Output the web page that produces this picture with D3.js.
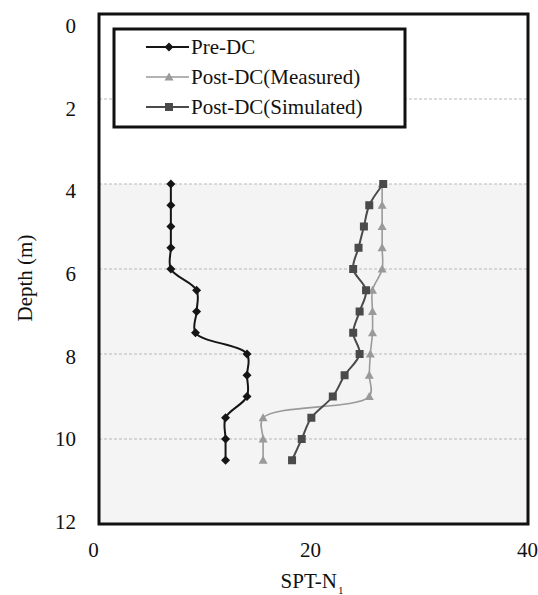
<!DOCTYPE html>
<html>
<head>
<meta charset="utf-8">
<script src="https://cdn.jsdelivr.net/npm/d3@7"></script>
<style>
  html, body { margin: 0; padding: 0; background: #fff; }
  svg { display: block; }
</style>
</head>
<body>
<svg id="chart" width="538" height="595"></svg>
<script>
// ---- data ----
const depths = [4, 4.5, 5, 5.5, 6, 6.5, 7, 7.5, 8, 8.5, 9, 9.5, 10, 10.5];
const preDC = [6.7, 6.7, 6.7, 6.7, 6.7, 9.1, 9.1, 9.0, 13.8, 13.8, 13.8, 11.8, 11.8, 11.8];
const postMeasured = [26.4, 26.4, 26.4, 26.4, 26.4, 25.5, 25.5, 25.5, 25.3, 25.2, 25.2, 15.3, 15.3, 15.3];
const postSimulated = [26.5, 25.2, 24.7, 24.2, 23.7, 24.9, 24.3, 23.7, 24.3, 22.9, 21.8, 19.8, 18.9, 18.0];
const xTicks = [0, 20, 40];
const yTicks = [0, 2, 4, 6, 8, 10, 12];
const gridDepths = [2, 4, 6, 8, 10];
const seriesNames = ["Pre-DC", "Post-DC(Measured)", "Post-DC(Simulated)"];

const FONT = '"Liberation Serif", "Times New Roman", Times, serif';

// ---- layout ----
const L = 99, R = 528, T = 14, B = 524;
const svg = d3.select("#chart");
const x = d3.scaleLinear().domain([0, 40]).range([L, R]);
const y = d3.scaleLinear().domain([0, 12]).range([T, B]);
// tick label placement (labels in the source are slightly offset from ticks)
const xLab = d3.scaleLinear().domain([0, 40]).range([93, 527]);
const yLab = d3.scaleLinear().domain([0, 12]).range([25, 521]);

// background: white above 4 m, light gray below
svg.append("rect").attr("x", L).attr("y", T).attr("width", R - L).attr("height", B - T).attr("fill", "#fff");
svg.append("rect").attr("x", L).attr("y", y(4)).attr("width", R - L).attr("height", B - y(4)).attr("fill", "#f4f4f4");

// gridlines
svg.append("g").selectAll("line").data(gridDepths).join("line")
  .attr("x1", L).attr("x2", R)
  .attr("y1", d => y(d)).attr("y2", d => y(d))
  .attr("stroke", "#b8b8b8").attr("stroke-width", 1).attr("stroke-dasharray", "3,2");

// axes (labels only)
const gx = svg.append("g").attr("transform", `translate(0,${557})`)
  .call(d3.axisBottom(xLab).tickValues(xTicks).tickSize(0).tickPadding(0).tickFormat(d3.format("d")));
gx.attr("font-family", FONT).attr("font-size", 21);
gx.select(".domain").remove();
gx.selectAll("text").attr("dy", 0).attr("fill", "#111");

const gy = svg.append("g").attr("transform", `translate(${76},0)`)
  .call(d3.axisLeft(yLab).tickValues(yTicks).tickSize(0).tickPadding(0).tickFormat(d3.format("d")));
gy.attr("font-family", FONT).attr("font-size", 21);
gy.select(".domain").remove();
gy.selectAll("text").attr("dy", "0.35em").attr("fill", "#111");

// axis titles
const xt = svg.append("text").attr("x", 312).attr("y", 588).attr("text-anchor", "middle").attr("font-size", 21);
xt.append("tspan").text("SPT-N");
xt.append("tspan").text("1").attr("font-size", 11).attr("dy", 6).attr("dx", 1);

svg.append("text").attr("transform", "translate(32,278) rotate(-90)")
  .attr("text-anchor", "middle").attr("font-size", 21).text("Depth (m)");

// series
const series = [
  { name: seriesNames[0], values: preDC, color: "#151515", width: 2, symbol: "diamond", size: 9 },
  { name: seriesNames[1], values: postMeasured, color: "#9a9a9a", width: 1.6, symbol: "triangle", size: 9 },
  { name: seriesNames[2], values: postSimulated, color: "#4a4a4a", width: 2, symbol: "square", size: 8 }
];

function symbolPath(kind, s) {
  const h = s / 2;
  if (kind === "diamond") return `M0,${-h}L${h},0L0,${h}L${-h},0Z`;
  if (kind === "square") return `M${-h},${-h}H${h}V${h}H${-h}Z`;
  return `M0,${-h}L${h},${h * 0.8}L${-h},${h * 0.8}Z`;
}

const line = d3.line().curve(d3.curveCatmullRom.alpha(0.5)).x(d => x(d.v)).y(d => y(d.d));

series.forEach(s => {
  const pts = depths.map((d, i) => ({ d, v: s.values[i] }));
  svg.append("path").datum(pts).attr("d", line)
    .attr("fill", "none").attr("stroke", s.color).attr("stroke-width", s.width);
  svg.append("g").selectAll("path").data(pts).join("path")
    .attr("transform", p => `translate(${x(p.v)},${y(p.d)})`)
    .attr("d", symbolPath(s.symbol, s.size))
    .attr("fill", s.color);
});

// plot frame
svg.append("rect").attr("x", L).attr("y", T).attr("width", R - L).attr("height", B - T)
  .attr("fill", "none").attr("stroke", "#111").attr("stroke-width", 3);

// legend
const lg = svg.append("g");
lg.append("rect").attr("x", 114).attr("y", 29).attr("width", 291).attr("height", 98)
  .attr("fill", "#fff").attr("stroke", "#111").attr("stroke-width", 3);
const legY = [47, 77, 107];
series.forEach((s, i) => {
  const yy = legY[i];
  lg.append("line").attr("x1", 146).attr("x2", 189).attr("y1", yy).attr("y2", yy)
    .attr("stroke", s.color).attr("stroke-width", s.width);
  lg.append("path").attr("transform", `translate(169,${yy})`).attr("d", symbolPath(s.symbol, s.size)).attr("fill", s.color);
  lg.append("text").attr("x", 191).attr("y", yy).attr("dy", "0.35em").attr("font-size", 21).text(s.name);
});

// enforce serif font on all text
svg.selectAll("text").attr("font-family", FONT).style("font-family", FONT).attr("fill", "#111");
</script>
</body>
</html>
